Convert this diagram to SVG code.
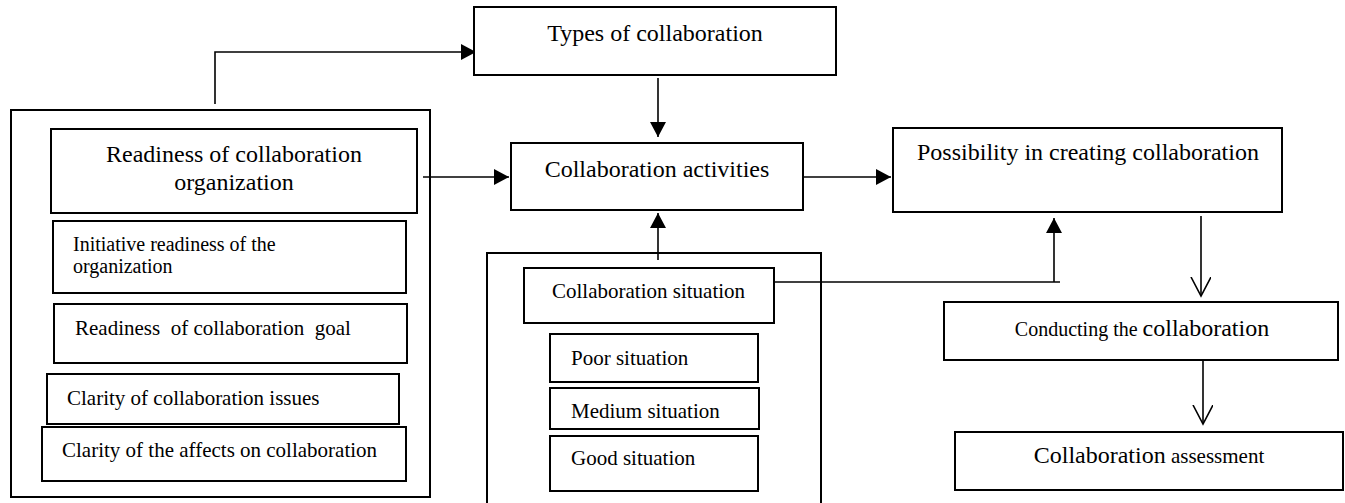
<svg xmlns="http://www.w3.org/2000/svg" width="1345" height="503" viewBox="0 0 1345 503">
<style>
.box{fill:#fff;stroke:#000;stroke-width:2}
.grp{fill:none;stroke:#000;stroke-width:2}
.t{fill:#000;white-space:pre}
.l{font-size:24px}
.s{font-size:21px}
.c{text-anchor:middle}
.con{fill:none;stroke:#000;stroke-width:1.6}
</style>
<defs>
<marker id="tri" markerUnits="userSpaceOnUse" markerWidth="16" markerHeight="18" refX="15" refY="8" orient="auto">
<path d="M0,0 L15,8 L0,16 z" fill="#000"/>
</marker>
<marker id="vee" markerUnits="userSpaceOnUse" markerWidth="22" markerHeight="24" refX="19" refY="10" orient="auto">
<path d="M0,0 L19,10 L0,20" fill="none" stroke="#000" stroke-width="1.6"/>
</marker>
</defs>

<g id="readiness-group">
<rect class="grp" x="11" y="110" width="419" height="387"/>
</g>
<g id="situation-group">
<rect class="grp" x="487" y="253" width="334" height="260"/>
</g>

<g id="connectors">
<path class="con" d="M215,104 V52 H476" marker-end="url(#tri)"/>
<path class="con" d="M658,78 V137" marker-end="url(#tri)"/>
<path class="con" d="M423,177 H509" marker-end="url(#tri)"/>
<path class="con" d="M804,177 H891" marker-end="url(#tri)"/>
<path class="con" d="M658,260 V213" marker-end="url(#tri)"/>
<path class="con" d="M772,282 H1060"/>
<path class="con" d="M1054,282 V218" marker-end="url(#tri)"/>
<path class="con" d="M1201,216 V296" marker-end="url(#vee)"/>
<path class="con" d="M1203,360 V424" marker-end="url(#vee)"/>
</g>

<g font-family="'Liberation Serif', 'Times New Roman', 'DejaVu Serif', serif">
<g id="types">
<rect class="box" x="474" y="7" width="362" height="68"/>
<text class="t l c" x="655" y="41">Types of collaboration</text>
</g>
<g id="activities">
<rect class="box" x="511" y="143" width="292" height="67"/>
<text class="t l c" x="657" y="177">Collaboration activities</text>
</g>
<g id="possibility">
<rect class="box" x="893" y="128" width="389" height="84"/>
<text class="t l c" x="1088" y="160">Possibility in creating collaboration</text>
</g>
<g id="conducting">
<rect class="box" x="944" y="302" width="394" height="58"/>
<text class="t c" x="1142" y="336"><tspan font-size="20">Conducting the </tspan><tspan font-size="24">collaboration</tspan></text>
</g>
<g id="assessment">
<rect class="box" x="955" y="432" width="388" height="58"/>
<text class="t c" x="1149" y="463"><tspan font-size="24">Collaboration</tspan><tspan font-size="21"> assessment</tspan></text>
</g>

<g id="readiness">
<rect class="box" x="51" y="129" width="366" height="84"/>
<text class="t l c" x="234" y="162">Readiness of collaboration</text>
<text class="t l c" x="234" y="190">organization</text>
</g>
<g id="initiative">
<rect class="box" x="53" y="221" width="353" height="72"/>
<text class="t" font-size="20" x="73" y="251">Initiative readiness of the</text>
<text class="t" font-size="20" x="73" y="273">organization</text>
</g>
<g id="goal">
<rect class="box" x="54" y="304" width="353" height="59"/>
<text class="t s" x="75" y="335">Readiness  of collaboration  goal</text>
</g>
<g id="issues">
<rect class="box" x="47" y="374" width="352" height="50"/>
<text class="t s" x="67" y="405">Clarity of collaboration issues</text>
</g>
<g id="affects">
<rect class="box" x="42" y="427" width="364" height="54"/>
<text class="t s" x="62" y="457">Clarity of the affects on collaboration</text>
</g>

<g id="situation">
<rect class="box" x="524" y="268" width="250" height="55"/>
<text class="t s" x="552" y="298">Collaboration situation</text>
</g>
<g id="poor">
<rect class="box" x="550" y="334" width="208" height="48"/>
<text class="t s" x="571" y="365">Poor situation</text>
</g>
<g id="medium">
<rect class="box" x="550" y="388" width="209" height="41"/>
<text class="t s" x="571" y="418">Medium situation</text>
</g>
<g id="good">
<rect class="box" x="550" y="436" width="208" height="55"/>
<text class="t s" x="571" y="465">Good situation</text>
</g>
</g>
</svg>
